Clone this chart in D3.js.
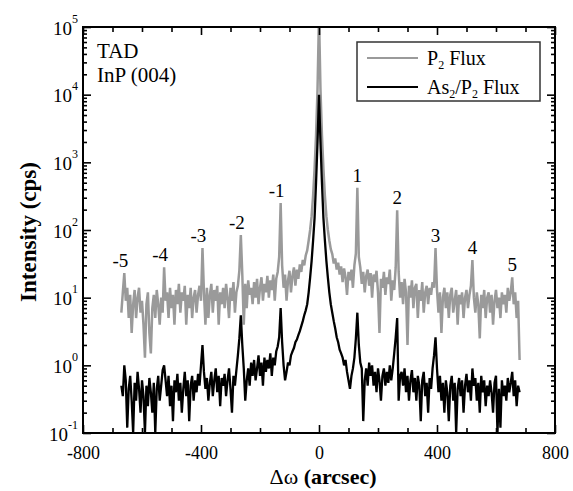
<!DOCTYPE html>
<html>
<head>
<meta charset="utf-8">
<script src="https://cdn.jsdelivr.net/npm/d3@7"></script>
<style>
  body { margin: 0; background: #fff; }
  svg text { font-family: "Liberation Serif", "Times New Roman", serif; }
</style>
</head>
<body>
<svg width="573" height="491"></svg>
<script>
// scan positions (arcsec)
var omega = [
  -670,-665,-660,-655,-650,-645,-640,-635,-630,-625,
  -620,-615,-610,-605,-600,-595,-590,-585,-580,-575,
  -570,-565,-560,-555,-550,-545,-540,-535,-530,-525,
  -520,-515,-510,-505,-500,-495,-490,-485,-480,-475,
  -470,-465,-460,-455,-450,-445,-440,-435,-430,-425,
  -420,-415,-410,-405,-400,-395,-390,-385,-380,-375,
  -370,-365,-360,-355,-350,-345,-340,-335,-330,-325,
  -320,-315,-310,-305,-300,-295,-290,-285,-280,-275,
  -270,-265,-260,-255,-250,-245,-240,-235,-230,-225,
  -220,-215,-210,-205,-200,-195,-190,-185,-180,-175,
  -170,-165,-160,-155,-150,-145,-140,-135,-130,-125,
  -120,-115,-110,-105,-100,-95,-90,-85,-80,-75,
  -70,-65,-60,-55,-50,-45,-40,-35,-30,-25,
  -20,-15,-10,-5,0,5,10,15,20,25,
  30,35,40,45,50,55,60,65,70,75,
  80,85,90,95,100,105,110,115,120,125,
  130,135,140,145,150,155,160,165,170,175,
  180,185,190,195,200,205,210,215,220,225,
  230,235,240,245,250,255,260,265,270,275,
  280,285,290,295,300,305,310,315,320,325,
  330,335,340,345,350,355,360,365,370,375,
  380,385,390,395,400,405,410,415,420,425,
  430,435,440,445,450,455,460,465,470,475,
  480,485,490,495,500,505,510,515,520,525,
  530,535,540,545,550,555,560,565,570,575,
  580,585,590,595,600,605,610,615,620,625,
  630,635,640,645,650,655,660,665,670,675,680
];

// P2 flux sample (cps)
var p2Flux = [
  6,12,23,9,14,5,11,3,8,13,
  5,10,14,6,9,4,1.3,8,12,3,
  1.5,7,11,5,13,8,4,10,6,28,
  9,12,5,14,7,11,4,13,8,16,
  6,12,9,15,4,11,7,14,5,10,
  13,6,11,15,9,54,12,4,14,5,
  11,16,6,13,9,15,4,12,8,14,
  7,16,10,5,14,9,17,6,12,15,
  25,84,22,4,16,7,18,11,14,8,
  17,10,19,8,14,20,9,16,12,21,
  10,18,13,22,9,19,24,40,250,30,
  14,22,9,18,25,12,21,28,15,26,
  19,31,24,36,30,42,50,70,100,160,
  320,800,2500,12000,150000,12000,2500,800,320,160,
  100,70,52,44,32,38,26,33,22,29,
  17,27,20,11,24,18,26,14,30,45,
  420,40,28,16,24,12,21,26,15,23,
  10,22,17,25,12,3,19,14,24,11,
  20,16,26,9,18,13,28,195,24,10,
  17,8,19,12,2,15,10,18,7,14,
  16,5,13,9,17,6,12,15,8,14,
  11,17,14,54,13,6,12,3,10,14,
  7,12,5,11,14,6,9,13,4,11,
  8,12,5,10,13,7,11,15,36,10,
  6,12,8,2.5,11,7,13,5,10,12,
  6,11,4,9,13,7,10,5,12,8,
  11,6,14,9,12,20,8,12,5,9,1.2
];

// As2/P2 flux sample (cps)
var asP2Flux = [
  0.5,0.35,1.0,0.6,0.12,0.45,0.7,0.3,0.1,0.55,
  0.3,0.8,0.45,0.2,0.6,0.35,0.1,0.5,0.25,0.65,
  0.4,0.2,0.55,0.1,0.45,0.7,0.3,0.5,0.85,1.0,
  0.6,0.35,0.7,0.25,0.5,0.15,0.6,0.4,0.75,0.3,
  0.55,0.2,0.45,0.8,0.35,0.6,0.15,0.5,0.7,0.3,
  0.6,0.4,0.75,0.5,1.0,2.0,0.8,0.45,0.65,0.3,
  0.55,0.8,0.35,0.6,0.9,0.4,0.7,0.25,0.65,0.5,
  0.75,0.35,0.6,0.9,0.45,0.2,0.7,0.5,0.85,1.4,
  2.5,5.5,2.0,0.9,0.3,0.6,0.9,0.5,1.1,0.7,
  1.2,0.6,0.9,1.4,0.7,1.1,0.5,1.3,0.8,1.2,
  0.9,1.5,0.7,1.3,1.0,1.6,1.9,2.6,7.0,2.2,
  1.0,0.6,0.8,1.1,1.0,1.4,1.6,1.8,2.2,2.4,
  2.8,3.2,3.8,4.5,5.5,6.5,8,12,20,35,
  70,150,500,2000,10000,2000,500,150,70,35,
  20,12,8,6,4.5,3.5,2.6,2.2,1.7,1.5,
  1.3,1.0,1.2,0.8,0.6,0.45,0.7,0.9,1.3,2.5,
  6.0,2.0,1.1,0.9,0.15,0.6,0.9,0.5,1.1,0.7,
  1.0,0.5,0.8,0.4,0.9,0.6,0.3,0.7,0.9,0.5,
  0.8,0.55,1.0,0.6,0.9,1.5,2.6,5.0,0.3,0.7,
  0.8,0.5,0.9,0.4,0.7,0.3,0.6,0.85,0.4,0.65,
  0.3,0.7,0.5,0.15,0.6,0.8,0.35,0.55,0.2,0.65,
  0.45,0.9,1.4,2.6,0.9,0.4,0.7,0.3,0.55,0.2,
  0.6,0.4,0.15,0.5,0.7,0.3,0.55,0.1,0.45,0.65,
  0.35,0.6,0.2,0.5,0.75,0.4,0.6,0.3,0.9,0.5,
  0.65,0.3,0.55,0.2,0.7,0.4,0.6,0.25,0.5,0.35,
  0.6,0.4,0.2,0.55,0.7,0.1,0.45,0.12,0.6,0.35,
  0.5,0.3,0.65,0.4,0.55,0.8,0.35,0.6,0.25,0.5,0.4
];

// satellite peaks: order and position
var satOrder = [-5, -4, -3, -2, -1, 1, 2, 3, 4, 5];
var satOmega = [-660, -525, -395, -265, -130, 130, 265, 395, 520, 655];

var xTickLabels = [-800, -400, 0, 400, 800];
var yDecades = [-1, 0, 1, 2, 3, 4, 5];

// legend entries: [text, subscript] pieces
var seriesLegend = [
  [["P", "2"], [" Flux", ""]],
  [["As", "2"], ["/P", "2"], [" Flux", ""]]
];
var seriesColors = ["#9a9a9a", "#000"];
var seriesWidths = [2.5, 2.3];

var svg = d3.select("svg"),
    margin = {top: 27, right: 18, bottom: 58, left: 83},
    width = +svg.attr("width") - margin.left - margin.right,
    height = +svg.attr("height") - margin.top - margin.bottom;

var g = svg.append("g")
    .attr("transform", "translate(" + margin.left + "," + margin.top + ")");

var x = d3.scaleLinear().domain([-800, 800]).range([0, width]);
var y = d3.scaleLog().domain([0.1, 1e5]).range([height, 0]);

g.append("clipPath").attr("id", "plotclip")
  .append("rect").attr("width", width).attr("height", height);

var line = d3.line()
    .x(function(d) { return x(d[0]); })
    .y(function(d) { return y(Math.max(d[1], 0.05)); });

var series = [p2Flux, asP2Flux];
series.forEach(function(vals, k) {
  g.append("path")
      .datum(omega.map(function(w, i) { return [w, vals[i]]; }))
      .attr("clip-path", "url(#plotclip)")
      .attr("fill", "none")
      .attr("stroke", seriesColors[k])
      .attr("stroke-width", seriesWidths[k])
      .attr("stroke-linejoin", "miter")
      .attr("stroke-miterlimit", 2)
      .attr("d", line);
});

// peak labels
g.selectAll(".peaklab")
  .data(satOrder)
  .enter().append("text")
    .attr("class", "peaklab")
    .attr("x", function(d, i) { return x(satOmega[i]) - (d < 0 ? 4 : 0); })
    .attr("y", function(d, i) { return y(p2Flux[omega.indexOf(satOmega[i])]) - 6; })
    .attr("text-anchor", "middle")
    .attr("font-size", 19)
    .text(function(d) { return d; });

// axes
var xMinor = d3.range(-700, 800, 100).filter(function(v) { return xTickLabels.indexOf(v) < 0; });
var yMinor = [];
yDecades.slice(0, -1).forEach(function(e) {
  for (var m = 2; m < 10; m++) yMinor.push(m * Math.pow(10, e));
});

function styleAxis(sel) {
  sel.select(".domain").remove();
  sel.selectAll("line").attr("stroke", "#000").attr("stroke-width", 1.6);
}

g.append("g").attr("transform", "translate(0," + height + ")")
  .call(d3.axisBottom(x).tickValues(xTickLabels).tickSizeInner(-8).tickSizeOuter(0).tickPadding(13)
    .tickFormat(function(d) { return d; }))
  .call(styleAxis)
  .selectAll("text").attr("font-size", 18).attr("fill", "#000")
    .attr("font-family", "Liberation Serif");
g.append("g").attr("transform", "translate(0," + height + ")")
  .call(d3.axisBottom(x).tickValues(xMinor).tickSize(-5).tickFormat(""))
  .call(styleAxis);
g.append("g")
  .call(d3.axisTop(x).tickValues(xTickLabels).tickSize(-8).tickFormat(""))
  .call(styleAxis);
g.append("g")
  .call(d3.axisTop(x).tickValues(xMinor).tickSize(-5).tickFormat(""))
  .call(styleAxis);

var yMajor = yDecades.map(function(e) { return Math.pow(10, e); });
var yAxisL = g.append("g")
  .call(d3.axisLeft(y).tickValues(yMajor).tickSizeInner(-8).tickSizeOuter(0).tickPadding(5)
    .tickFormat(""))
  .call(styleAxis);
yAxisL.selectAll(".tick text").remove();
yAxisL.selectAll(".tick").append("text")
    .attr("x", -5)
    .attr("y", 7)
    .attr("text-anchor", "end")
    .attr("fill", "#000")
    .attr("font-size", 19)
    .attr("font-family", "Liberation Serif")
    .each(function(d) {
      var t = d3.select(this);
      t.append("tspan").text("10");
      t.append("tspan").attr("font-size", 12).attr("dy", -12)
        .text(Math.round(Math.log10(d)));
    });
g.append("g")
  .call(d3.axisLeft(y).tickValues(yMinor).tickSize(-4).tickFormat(""))
  .call(styleAxis);
g.append("g").attr("transform", "translate(" + width + ",0)")
  .call(d3.axisRight(y).tickValues(yMajor).tickSize(-8).tickFormat(""))
  .call(styleAxis);
g.append("g").attr("transform", "translate(" + width + ",0)")
  .call(d3.axisRight(y).tickValues(yMinor).tickSize(-4).tickFormat(""))
  .call(styleAxis);

// frame
g.append("rect")
    .attr("width", width)
    .attr("height", height)
    .attr("fill", "none")
    .attr("stroke", "#000")
    .attr("stroke-width", 2);

// axis titles
svg.append("text")
    .attr("transform", "translate(36," + (margin.top + height / 2 + 2) + ") rotate(-90)")
    .attr("text-anchor", "middle")
    .attr("font-size", 23)
    .attr("font-weight", "bold")
    .text("Intensity (cps)");

var xt = svg.append("text")
    .attr("x", margin.left + width / 2 + 4)
    .attr("y", 484)
    .attr("text-anchor", "middle")
    .attr("font-size", 22);
xt.append("tspan").text("\u0394\u03c9 ");
xt.append("tspan").attr("font-weight", "bold").text("(arcsec)");

// sample label
g.append("text").attr("x", 14).attr("y", 31).attr("font-size", 21).text("TAD");
g.append("text").attr("x", 14).attr("y", 55).attr("font-size", 21).text("InP (004)");

// legend
var lg = g.append("g").attr("transform", "translate(" + (357 - margin.left) + "," + (42 - margin.top) + ")");
lg.append("rect")
    .attr("width", 183).attr("height", 59)
    .attr("fill", "#fff").attr("stroke", "#333").attr("stroke-width", 1.5);

seriesLegend.forEach(function(pieces, k) {
  var ly = 16 + k * 29;
  lg.append("line")
      .attr("x1", 10).attr("x2", 61).attr("y1", ly).attr("y2", ly)
      .attr("stroke", seriesColors[k]).attr("stroke-width", 2);
  var t = lg.append("text").attr("x", 70).attr("y", ly + 7).attr("font-size", 20);
  var shift = 0;
  pieces.forEach(function(p) {
    t.append("tspan").attr("dy", -shift).text(p[0]);
    shift = 0;
    if (p[1]) {
      t.append("tspan").attr("font-size", 12).attr("dy", 4).text(p[1]);
      shift = 4;
    }
  });
});
</script>
</body>
</html>
